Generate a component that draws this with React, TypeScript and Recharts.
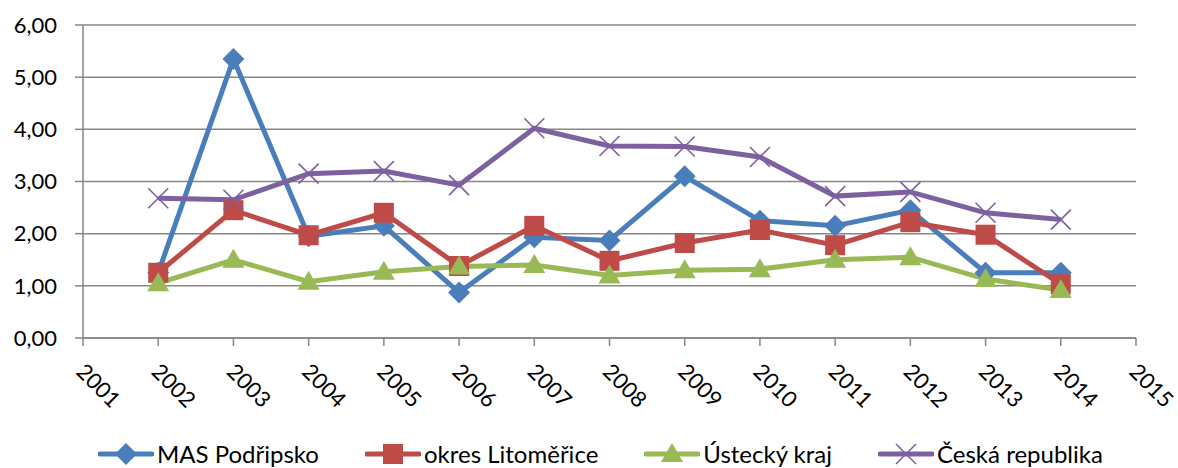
import React from 'react';
import { LineChart, Line, XAxis, YAxis, CartesianGrid, Legend } from 'recharts';

const years = ['2001', '2002', '2003', '2004', '2005', '2006', '2007', '2008', '2009', '2010', '2011', '2012', '2013', '2014', '2015'];
const mas = [null, 1.25, 5.35, 1.95, 2.15, 0.87, 1.93, 1.87, 3.1, 2.25, 2.15, 2.45, 1.25, 1.25, null];
const okres = [null, 1.25, 2.45, 1.97, 2.4, 1.38, 2.15, 1.48, 1.82, 2.07, 1.78, 2.22, 1.98, 1.03, null];
const kraj = [null, 1.05, 1.5, 1.08, 1.27, 1.37, 1.4, 1.2, 1.3, 1.32, 1.5, 1.55, 1.13, 0.92, null];
const cr = [null, 2.68, 2.65, 3.15, 3.2, 2.93, 4.02, 3.68, 3.67, 3.47, 2.72, 2.8, 2.4, 2.27, null];
const yTicks = [0, 1, 2, 3, 4, 5, 6];

const data = years.map((y, i) => ({ year: y, mas: mas[i], okres: okres[i], kraj: kraj[i], cr: cr[i] }));

const BLUE = '#4A7EBB';
const RED = '#BE4B48';
const GREEN = '#98B954';
const PURPLE = '#7D60A0';
const GRID = '#868686';
const FONT = 'Lato, "Open Sans", sans-serif';

const Diamond = ({ cx, cy }: any) =>
  cy == null || isNaN(cy) ? <g /> : (
    <polygon points={`${cx},${cy - 11} ${cx + 11},${cy} ${cx},${cy + 11} ${cx - 11},${cy}`} fill={BLUE} />
  );
const Square = ({ cx, cy }: any) =>
  cy == null || isNaN(cy) ? <g /> : <rect x={cx - 10} y={cy - 10} width={20} height={20} fill={RED} />;
const Triangle = ({ cx, cy }: any) =>
  cy == null || isNaN(cy) ? <g /> : (
    <polygon points={`${cx},${cy - 11} ${cx + 11},${cy + 8} ${cx - 11},${cy + 8}`} fill={GREEN} />
  );
const Cross = ({ cx, cy }: any) =>
  cy == null || isNaN(cy) ? <g /> : (
    <g stroke={PURPLE} strokeWidth={1.6}>
      <line x1={cx - 10} y1={cy - 10} x2={cx + 10} y2={cy + 10} />
      <line x1={cx - 10} y1={cy + 10} x2={cx + 10} y2={cy - 10} />
    </g>
  );

const XTick = ({ x, y, payload }: any) => (
  <text
    x={x - 8}
    y={y + 27}
    transform={`rotate(45 ${x - 8} ${y + 27})`}
    fontSize={22}
    fontFamily={FONT}
    fill="#000"
    textAnchor="start"
  >
    {payload.value}
  </text>
);

const legendItems = [
  { name: 'MAS Podřipsko', color: BLUE, Mark: Diamond },
  { name: 'okres Litoměřice', color: RED, Mark: Square },
  { name: 'Ústecký kraj', color: GREEN, Mark: Triangle },
  { name: 'Česká republika', color: PURPLE, Mark: Cross },
];

const LegendContent = () => (
  <div style={{ display: 'flex', justifyContent: 'flex-start', paddingLeft: 98, gap: 46, fontFamily: FONT, fontSize: 24 }}>
    {legendItems.map(({ name, color, Mark }) => (
      <div key={name} style={{ display: 'flex', alignItems: 'center' }}>
        <svg width={56} height={26}>
          <line x1={2} y1={13} x2={54} y2={13} stroke={color} strokeWidth={5} strokeLinecap="round" />
          <Mark cx={28} cy={13} />
        </svg>
        <span style={{ marginLeft: 3 }}>{name}</span>
      </div>
    ))}
  </div>
);

export default function App() {
  return (
    <div style={{ position: 'absolute', left: 0, top: 0, background: '#fff' }}>
      <LineChart width={1178} height={468} data={data} margin={{ top: 25, right: 42, bottom: 0, left: 0 }}>
        <CartesianGrid vertical={false} stroke={GRID} strokeWidth={1.5} />
        <XAxis
          dataKey="year"
          interval={0}
          height={101}
          tickSize={8}
          tickMargin={0}
          tick={<XTick />}
          axisLine={{ stroke: GRID, strokeWidth: 1.5 }}
          tickLine={{ stroke: GRID, strokeWidth: 1.5 }}
        />
        <YAxis
          width={83}
          domain={[0, 6]}
          ticks={yTicks}
          interval={0}
          tickSize={8}
          tickMargin={18}
          tickFormatter={(v: number) => v.toFixed(2).replace('.', ',')}
          tick={{ fontSize: 22, fontFamily: FONT, fill: '#000' }}
          axisLine={{ stroke: GRID, strokeWidth: 1.5 }}
          tickLine={{ stroke: GRID, strokeWidth: 1.5 }}
        />
        <Legend verticalAlign="bottom" content={<LegendContent />} wrapperStyle={{ bottom: 0, left: 0, width: 1178 }} />
        <Line dataKey="mas" stroke={BLUE} strokeWidth={5} dot={<Diamond />} activeDot={false} isAnimationActive={false} />
        <Line dataKey="okres" stroke={RED} strokeWidth={5} dot={<Square />} activeDot={false} isAnimationActive={false} />
        <Line dataKey="kraj" stroke={GREEN} strokeWidth={5} dot={<Triangle />} activeDot={false} isAnimationActive={false} />
        <Line dataKey="cr" stroke={PURPLE} strokeWidth={5} dot={<Cross />} activeDot={false} isAnimationActive={false} />
      </LineChart>
    </div>
  );
}
